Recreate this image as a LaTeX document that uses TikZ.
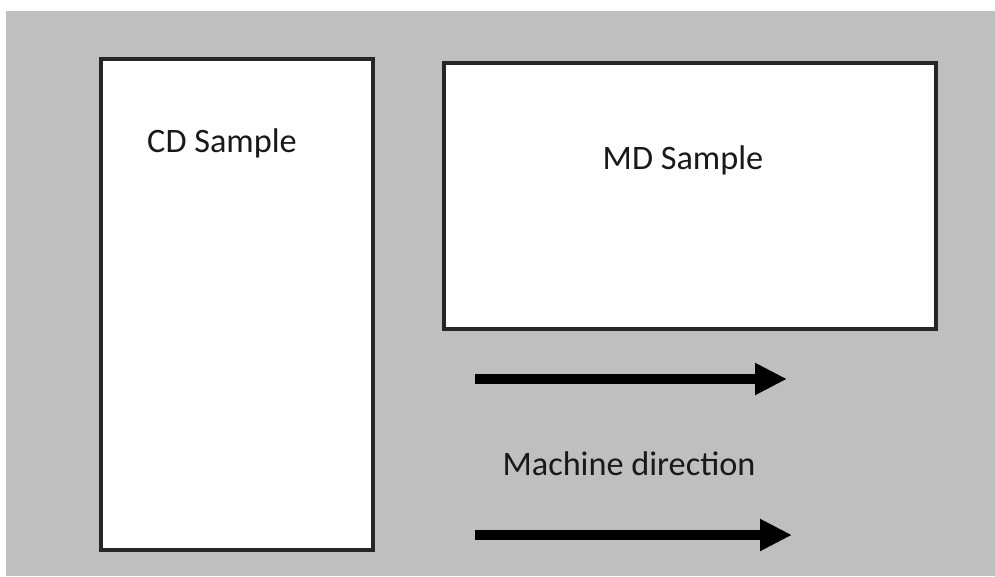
\documentclass[tikz,border=0pt]{standalone}
\usepackage{fontspec}
\setmainfont{Carlito}
\usetikzlibrary{arrows.meta}
\tikzset{
	sample/.style={draw=black!85, line width=1.8pt, fill=white},
	label/.style={anchor=base, font=\fontsize{19.5}{23}\selectfont, text=black!90},
	mdarrow/.style={line width=5.7pt, -{Triangle[length=0.64cm, width=0.6cm]}}
}
\begin{document}
\begin{tikzpicture}[x=0.02cm, y=-0.02cm]
					\useasboundingbox (0,0) rectangle (995,576);
					\fill[white] (0,0) rectangle (995,576);
					\fill[black!25] (6,11) rectangle (995,576);
					
					%Nodes
					\coordinate      (cd1) 	at 	(101,59);
					\coordinate      (cd2) 	at 	(373,550);
					\coordinate      (md1) 	at 	(444,63);
					\coordinate      (md2) 	at 	(936,329);
					\coordinate      (a1) 	at 	(475,379);
					\coordinate      (a2) 	at 	(787,379);
					\coordinate      (b1) 	at 	(475,535);
					\coordinate      (b2) 	at 	(792,535);
					
					%Lines
					\draw[sample] (cd1) rectangle (cd2);
					\draw[sample] (md1) rectangle (md2);
					\draw[mdarrow] (a1) -- (a2);
					\draw[mdarrow] (b1) -- (b2);
					
					\node[label] (cd) at (222,152) {CD Sample};
					\node[label] (md) at (683,169) {MD Sample};
					\node[label] (dir) at (629,475) {Machine direction};

				\end{tikzpicture}
\end{document}
